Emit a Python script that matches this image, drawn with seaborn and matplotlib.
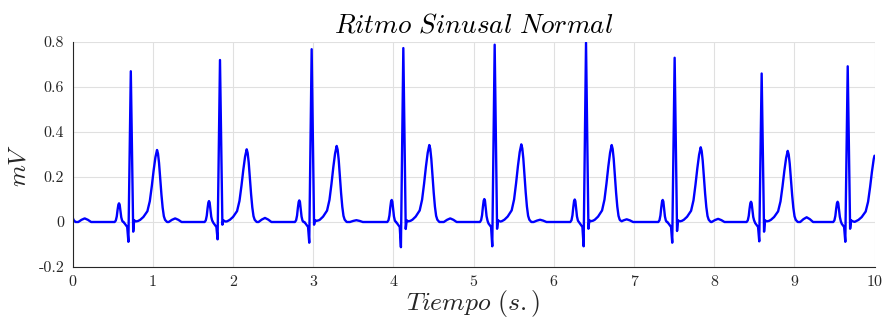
import numpy as np
import pandas as pd
import matplotlib
matplotlib.use("Agg")
import matplotlib.pyplot as plt
import seaborn as sns

# ---------------------------------------------------------------
# ECG features, times in seconds, amplitudes in mV
# ---------------------------------------------------------------
# P waves
p_time = [0.580, 1.702, 2.828, 3.980, 5.135, 6.262, 7.359, 8.460, 9.540]
p_amp = [0.083, 0.093, 0.096, 0.098, 0.102, 0.100, 0.098, 0.090, 0.090]

# QRS complexes (R-peak time, Q / R / S deflections)
r_time = [0.727, 1.839, 2.982, 4.125, 5.264, 6.403, 7.508, 8.593, 9.666]
q_amp = [-0.088, -0.077, -0.092, -0.112, -0.108, -0.108, -0.092, -0.086, -0.088]
r_amp = [0.670, 0.720, 0.768, 0.773, 0.788, 0.797, 0.730, 0.660, 0.692]
s_amp = [-0.043, -0.012, -0.012, -0.031, -0.030, -0.030, -0.040, -0.043, -0.030]

# T waves (first one belongs to the beat before the record, last one is cut at 10 s)
t_time = [-0.088, 1.054, 2.172, 3.294, 4.449, 5.596, 6.723, 7.833, 8.918, 10.01]
t_amp = [0.320, 0.320, 0.323, 0.338, 0.342, 0.345, 0.342, 0.332, 0.316, 0.310]

# U waves
u_time = [0.152, 1.280, 2.400, 3.540, 4.710, 5.830, 6.910, 8.050, 9.154]
u_amp = [0.016, 0.016, 0.018, 0.008, 0.016, 0.010, 0.012, 0.014, 0.021]

# Wave outlines: offsets from each peak (s) and fraction of the peak amplitude
p_shape_dt = [-0.055, -0.040, -0.028, -0.018, -0.008, 0.0, 0.008, 0.018, 0.028, 0.040, 0.052]
p_shape = [0.0, 0.08, 0.30, 0.65, 0.93, 1.0, 0.93, 0.60, 0.25, 0.06, 0.0]
t_shape_dt = [-0.26, -0.21, -0.17, -0.12, -0.09, -0.065, -0.042, -0.020, 0.0,
              0.012, 0.025, 0.040, 0.055, 0.070, 0.085, 0.100, 0.125]
t_shape = [0.0, 0.03, 0.07, 0.15, 0.29, 0.50, 0.72, 0.90, 1.0,
           0.95, 0.82, 0.60, 0.38, 0.20, 0.08, 0.03, 0.0]
u_shape_dt = [-0.08, -0.04, 0.0, 0.04, 0.08]
u_shape = [0.0, 0.6, 1.0, 0.6, 0.0]
qrs_dt = [-0.09, -0.06, -0.045, -0.03, 0.0, 0.03, 0.042, 0.055, 0.09]


def outline(center, amp, dts, fracs):
    return np.asarray(dts) + center, amp * np.asarray(fracs)


waves = []
for c, a in zip(p_time, p_amp):
    waves.append(outline(c, a, p_shape_dt, p_shape))
for c, a in zip(t_time, t_amp):
    waves.append(outline(c, a, t_shape_dt, t_shape))
for c, a in zip(u_time, u_amp):
    waves.append(outline(c, a, u_shape_dt, u_shape))
for c, q, r, s in zip(r_time, q_amp, r_amp, s_amp):
    vals = np.array([0.0, -0.015, -0.022, q, r, s, 0.008, 0.004, 0.0])
    waves.append((np.asarray(qrs_dt) + c, vals))

tt = np.unique(np.concatenate([w[0] for w in waves] + [np.array([0.0, 10.0])]))
tt = tt[(tt >= 0.0) & (tt <= 10.0)]
mv = np.zeros_like(tt)
for wt, wv in waves:
    mv += np.interp(tt, wt, wv, left=0.0, right=0.0)

ecg = pd.DataFrame({"Tiempo": tt, "mV": mv})

# ---------------------------------------------------------------
# Figure
# ---------------------------------------------------------------
sns.set_style("white")
plt.rcParams["mathtext.fontset"] = "cm"
plt.rcParams["axes.unicode_minus"] = False

W, H = 883, 323
fig = plt.figure(figsize=(W / 100, H / 100), dpi=100)
ax = fig.add_axes([72.5 / W, 1 - 267 / H, 802 / W, 225 / H])

sns.lineplot(data=ecg, x="Tiempo", y="mV", ax=ax, color="#0000ff",
             linewidth=1.7, estimator=None, sort=False)

ax.set_xlim(0, 10)
ax.set_ylim(-0.2, 0.8)
xt = list(range(0, 11))
yt = [-0.2, 0.0, 0.2, 0.4, 0.6, 0.8]
yt_labels = ["-0.2", "0", "0.2", "0.4", "0.6", "0.8"]
ax.set_xticks(xt)
ax.set_yticks(yt)
ax.set_xticklabels([str(v) for v in xt], fontfamily="cmr10", fontsize=11.5)
ax.set_yticklabels(yt_labels, fontfamily="cmr10", fontsize=11.5)

ax.grid(True, color="#e0e0e0", linewidth=0.8)
ax.set_axisbelow(True)
for side in ["top", "right"]:
    ax.spines[side].set_visible(False)
for side in ["left", "bottom"]:
    ax.spines[side].set_color("#262626")
    ax.spines[side].set_linewidth(0.8)
ax.tick_params(direction="in", length=6, width=0.8, color="#262626",
               labelcolor="#262626", pad=6)

ax.set_title(r"$\mathit{Ritmo\ Sinusal\ Normal}$", fontsize=19.5,
             color="#000000", pad=7)
ax.set_xlabel(r"$\mathit{Tiempo\ (s.)}$", fontsize=18.5, color="#262626")
ax.xaxis.set_label_coords(0.5, -0.095)
ax.set_ylabel(r"$mV$", fontsize=18, color="#262626")
ax.yaxis.set_label_coords(-0.052, 0.45)

fig.savefig("out.png", dpi=100)
